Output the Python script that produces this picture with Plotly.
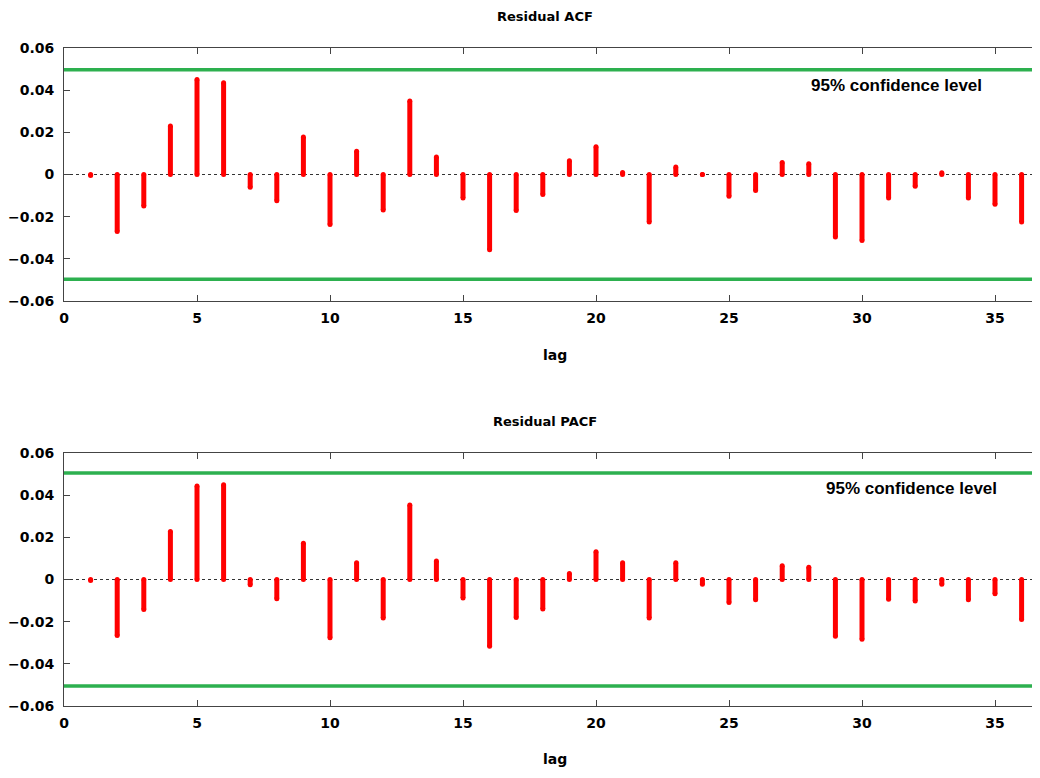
import plotly.graph_objects as go

# ---- data ----
lags = list(range(1, 37))
acf_values = [-0.0005, -0.027, -0.015, 0.023, 0.045, 0.0435, -0.006, -0.0124, 0.0178, -0.0237,
              0.011, -0.0168, 0.0349, 0.0083, -0.0111, -0.0357, -0.0171, -0.0095, 0.0065, 0.0132,
              0.001, -0.0225, 0.0035, 0.0, -0.0103, -0.0076, 0.0057, 0.0051, -0.0297, -0.0313,
              -0.0111, -0.0056, 0.0008, -0.0111, -0.0141, -0.0225]
pacf_values = [-0.0005, -0.0266, -0.0142, 0.0228, 0.0443, 0.0449, -0.0025, -0.0091, 0.0172, -0.0276,
               0.008, -0.0183, 0.0353, 0.0088, -0.0088, -0.0317, -0.018, -0.014, 0.0028, 0.0132,
               0.0079, -0.0183, 0.0079, -0.0022, -0.0109, -0.0096, 0.0065, 0.0058, -0.0269, -0.0283,
               -0.0094, -0.0102, -0.0022, -0.0096, -0.0068, -0.019]
acf_conf = 0.0497
pacf_conf = 0.0505
titles = ["Residual ACF", "Residual PACF"]
conf_label = "95% confidence level"
x_title = "lag"
y_tickvals = [-0.06, -0.04, -0.02, 0, 0.02, 0.04, 0.06]
y_ticktext = ["\u22120.06", "\u22120.04", "\u22120.02", "0", "0.02", "0.04", "0.06"]
x_tickvals = [0, 5, 10, 15, 20, 25, 30, 35]
x_ticktext = ["0", "5", "10", "15", "20", "25", "30", "35"]

OFF = 8  # page body margin offset
W, H = 1040 - 2 * OFF, 778 - 2 * OFF
L = 64 - OFF
X_MAX = (W - L) / 26.6
RED = "#ff0000"
GREEN = "#2db04f"
AXIS = "#444444"
tick_font = dict(family="DejaVu Sans", size=14, color="black", weight="bold")

fig = go.Figure()

def stems(vals):
    xs, ys = [], []
    for lag, v in zip(lags, vals):
        xs += [lag, lag, None]
        ys += [0, v, None]
    return xs, ys

panels = [
    dict(top=48, bottom=301, vals=acf_values, conf=acf_conf, xa="x", ya="y",
         title_y=16, lag_y=355, ann_x=31.3, ann_y=0.0424),
    dict(top=453, bottom=706, vals=pacf_values, conf=pacf_conf, xa="x2", ya="y2",
         title_y=421, lag_y=759, ann_x=31.86, ann_y=0.0431),
]

def py(y):  # window pixel y -> paper fraction
    return (H - (y - OFF)) / H

def px(x):  # window pixel x -> paper fraction (relative to plot area)
    return (x - OFF - L) / (W - L)

annotations = []
shapes = []
for i, p in enumerate(panels):
    xs, ys = stems(p["vals"])
    fig.add_trace(go.Scatter(x=xs, y=ys, mode="lines+markers", xaxis=p["xa"], yaxis=p["ya"],
                             line=dict(color=RED, width=5),
                             marker=dict(color=RED, size=5, line=dict(width=0)),
                             showlegend=False, hoverinfo="skip"))
    sfx = "" if i == 0 else "2"
    dom = [py(p["bottom"]), py(p["top"])]
    fig.update_layout(**{
        "xaxis" + sfx: dict(domain=[0, 1], range=[0, X_MAX], anchor="y" + sfx, automargin=False,
                            tickvals=x_tickvals, ticktext=x_ticktext, ticks="inside", ticklen=6,
                            tickcolor=AXIS, showline=True, linecolor=AXIS, linewidth=1,
                            mirror="ticks", showgrid=False, zeroline=False,
                            tickfont=tick_font, ticklabelstandoff=4),
        "yaxis" + sfx: dict(domain=dom, range=[-0.06, 0.06], anchor="x" + sfx, automargin=False,
                            tickvals=y_tickvals, ticktext=y_ticktext, ticks="inside", ticklen=6,
                            tickcolor=AXIS, showline=True, linecolor=AXIS, linewidth=1,
                            mirror=False, showgrid=False, zeroline=False,
                            tickfont=tick_font, ticklabelstandoff=6),
    })
    shapes.append(dict(type="line", xref=p["xa"] + " domain", yref=p["ya"], x0=0, x1=1, y0=0, y1=0,
                       line=dict(color="#333333", width=1, dash="dot"), layer="below"))
    for s in (1, -1):
        shapes.append(dict(type="line", xref=p["xa"] + " domain", yref=p["ya"], x0=0, x1=1,
                           y0=s * p["conf"], y1=s * p["conf"],
                           line=dict(color=GREEN, width=3.5)))
    annotations.append(dict(text=titles[i], xref="paper", yref="paper", x=px(545),
                            y=py(p["title_y"]), showarrow=False, xanchor="center",
                            yanchor="middle",
                            font=dict(family="DejaVu Sans", size=13, color="black", weight="bold")))
    annotations.append(dict(text=x_title, xref="paper", yref="paper", x=px(555),
                            y=py(p["lag_y"]), showarrow=False, xanchor="center",
                            yanchor="middle",
                            font=dict(family="DejaVu Sans", size=14, color="black", weight="bold")))
    annotations.append(dict(text=conf_label, xref=p["xa"], yref=p["ya"], x=p["ann_x"], y=p["ann_y"],
                            showarrow=False, xanchor="center", yanchor="middle",
                            font=dict(family="Liberation Sans", size=17, color="black", weight="bold")))

fig.update_layout(width=W, height=H, margin=dict(l=L, r=0, t=0, b=0, autoexpand=False),
                  plot_bgcolor="white", paper_bgcolor="white",
                  shapes=shapes, annotations=annotations, showlegend=False)

fig.write_html("out.html")
